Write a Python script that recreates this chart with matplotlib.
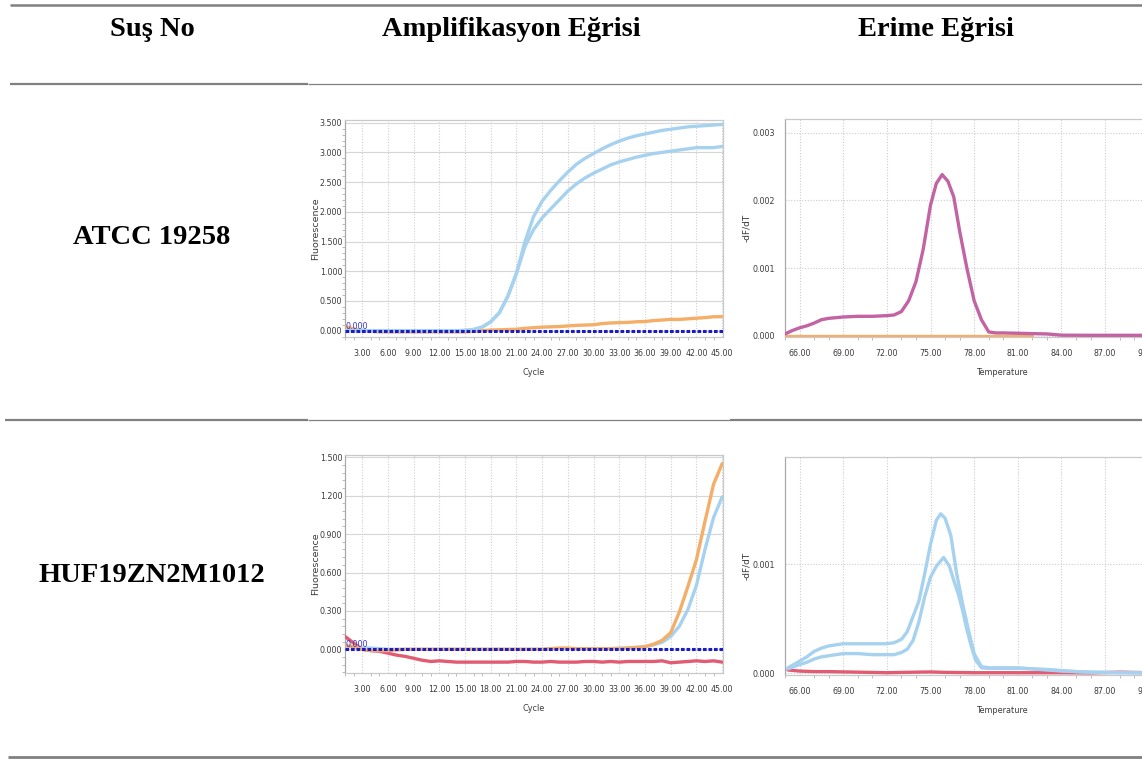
import matplotlib
matplotlib.use("Agg")
import matplotlib.pyplot as plt
from matplotlib.ticker import MultipleLocator, FormatStrFormatter
from matplotlib.lines import Line2D

# ---------------- data ----------------
headers = ["Suş No", "Amplifikasyon Eğrisi", "Erime Eğrisi"]
strains = ["ATCC 19258", "HUF19ZN2M1012"]

cycles = list(range(1, 46))

# Row 1 amplification (ATCC 19258)
amp1_blue_a = [0.00, 0.00, 0.00, 0.00, 0.00, 0.00, 0.00, 0.00, 0.00, 0.00,
               0.00, 0.00, 0.00, 0.00, 0.005, 0.02, 0.06, 0.15, 0.30, 0.58,
               0.97, 1.50, 1.92, 2.18, 2.36, 2.52, 2.67, 2.80, 2.90, 2.98,
               3.06, 3.13, 3.19, 3.24, 3.28, 3.31, 3.34, 3.37, 3.39, 3.41,
               3.43, 3.44, 3.45, 3.46, 3.47]
amp1_blue_b = [0.00, 0.00, 0.00, 0.00, 0.00, 0.00, 0.00, 0.00, 0.00, 0.00,
               0.00, 0.00, 0.00, 0.00, 0.005, 0.02, 0.06, 0.15, 0.30, 0.58,
               0.96, 1.42, 1.70, 1.90, 2.05, 2.20, 2.35, 2.47, 2.57, 2.65,
               2.72, 2.79, 2.84, 2.88, 2.92, 2.95, 2.98, 3.00, 3.02, 3.04,
               3.06, 3.08, 3.08, 3.08, 3.10]
amp1_orange = [0.07, 0.03, 0.00, -0.01, -0.02, -0.02, -0.02, -0.02, -0.02, -0.02,
               -0.02, -0.02, -0.02, -0.02, -0.02, -0.01, 0.00, 0.01, 0.015, 0.02,
               0.025, 0.04, 0.05, 0.06, 0.065, 0.07, 0.08, 0.09, 0.095, 0.10,
               0.12, 0.13, 0.135, 0.14, 0.15, 0.155, 0.17, 0.18, 0.19, 0.19,
               0.20, 0.21, 0.22, 0.235, 0.235]

# Row 2 amplification (HUF19ZN2M1012)
amp2_red = [0.10, 0.05, 0.00, -0.01, -0.015, -0.03, -0.045, -0.055, -0.07, -0.085,
            -0.095, -0.09, -0.095, -0.10, -0.10, -0.10, -0.10, -0.10, -0.10, -0.10,
            -0.095, -0.095, -0.10, -0.10, -0.095, -0.10, -0.10, -0.10, -0.095, -0.095,
            -0.10, -0.095, -0.10, -0.095, -0.095, -0.095, -0.095, -0.09, -0.105, -0.10,
            -0.095, -0.09, -0.095, -0.09, -0.10]
amp2_orange = [0.03, 0.02, 0.00, -0.01, -0.01, -0.01, -0.005, 0.00, 0.00, 0.00,
               0.00, 0.00, 0.00, 0.00, 0.00, 0.00, 0.00, 0.00, 0.00, 0.00,
               0.00, 0.00, 0.00, 0.00, 0.005, 0.01, 0.01, 0.005, 0.005, 0.005,
               0.005, 0.005, 0.005, 0.01, 0.015, 0.02, 0.04, 0.07, 0.13, 0.29,
               0.49, 0.70, 1.00, 1.29, 1.45]
amp2_blue = [0.03, 0.02, 0.01, 0.01, 0.005, 0.00, 0.00, 0.00, 0.00, 0.00,
             0.00, 0.00, 0.00, 0.00, 0.00, 0.00, 0.00, 0.00, 0.00, 0.00,
             0.00, 0.00, 0.00, 0.00, 0.005, 0.005, 0.005, 0.005, 0.005, 0.005,
             0.005, 0.005, 0.01, 0.01, 0.015, 0.02, 0.035, 0.055, 0.10, 0.18,
             0.31, 0.50, 0.78, 1.03, 1.19]

# Row 1 melt (values x 1e-3)
melt1_temp = [65.0, 65.5, 66.0, 66.5, 67.0, 67.5, 68.0, 68.5, 69.0, 70.0, 71.0, 72.0,
              72.5, 73.0, 73.5, 74.0, 74.5, 75.0, 75.4, 75.8, 76.2, 76.6, 77.0, 77.5,
              78.0, 78.5, 79.0, 79.5, 80.0, 81.0, 82.0, 83.0, 84.0, 86.0, 88.0, 90.0, 92.0]
melt1_purple = [0.03, 0.08, 0.12, 0.15, 0.19, 0.24, 0.26, 0.27, 0.28, 0.29, 0.29, 0.30,
                0.31, 0.36, 0.52, 0.80, 1.28, 1.93, 2.25, 2.38, 2.28, 2.05, 1.55, 1.00,
                0.52, 0.24, 0.06, 0.045, 0.045, 0.04, 0.035, 0.03, 0.012, 0.01, 0.01, 0.01, 0.01]
melt1_orange_temp = [65.0, 70.0, 75.0, 80.0, 82.0]
melt1_orange = [0.0, 0.0, 0.0, 0.0, 0.0]

# Row 2 melt (values x 1e-3)
melt2_temp_a = [65.2, 65.6, 66.0, 66.5, 67.0, 67.5, 68.0, 68.5, 69.0, 70.0, 71.0, 72.0,
                72.5, 73.0, 73.4, 73.8, 74.2, 74.6, 75.0, 75.4, 75.7, 76.0, 76.4, 76.8,
                77.2, 77.6, 78.0, 78.5, 79.0, 80.0, 81.0, 82.0, 83.0, 84.0, 85.0, 86.0,
                88.0, 92.0]
melt2_blue_a = [0.05, 0.08, 0.11, 0.15, 0.20, 0.23, 0.25, 0.26, 0.27, 0.27, 0.27, 0.27,
                0.28, 0.31, 0.38, 0.52, 0.66, 0.91, 1.18, 1.40, 1.46, 1.42, 1.26, 0.91,
                0.64, 0.40, 0.18, 0.06, 0.05, 0.05, 0.05, 0.04, 0.035, 0.025, 0.015, 0.01,
                0.005, 0.005]
melt2_temp_b = [65.2, 65.6, 66.0, 66.5, 67.0, 67.5, 68.0, 69.0, 70.0, 71.0, 72.0, 72.5,
                73.0, 73.4, 73.8, 74.2, 74.6, 75.0, 75.4, 75.9, 76.3, 76.6, 76.9, 77.2,
                77.5, 77.8, 78.1, 78.5, 79.0, 80.0, 81.0, 82.0, 83.0, 84.0, 85.0, 86.0,
                88.0, 92.0]
melt2_blue_b = [0.04, 0.06, 0.08, 0.10, 0.13, 0.15, 0.16, 0.18, 0.18, 0.17, 0.17, 0.17,
                0.19, 0.22, 0.30, 0.47, 0.70, 0.88, 0.98, 1.06, 0.98, 0.85, 0.73, 0.58,
                0.40, 0.25, 0.12, 0.05, 0.045, 0.045, 0.045, 0.04, 0.03, 0.02, 0.015, 0.01,
                0.005, 0.005]
melt2_temp_r = [65.2, 65.6, 66.0, 67.0, 68.0, 70.0, 72.0, 74.0, 75.0, 76.0, 78.0, 80.0,
                82.0, 84.0, 86.0, 88.0, 90.0, 92.0]
melt2_red = [0.03, 0.025, 0.02, 0.015, 0.015, 0.01, 0.005, 0.01, 0.012, 0.008, 0.005, 0.005,
             0.005, 0.005, 0.003, 0.01, 0.005, 0.003]

# ---------------- style ----------------
BLUE = "#a6d2ef"
ORANGE = "#f4ae68"
PURPLE = "#c263a3"
RED = "#e15c73"
THRESH = "#1c1cc4"
TICKC = "#3a3a3a"

W, H = 1142, 760
fig = plt.figure(figsize=(W / 100, H / 100), dpi=100)


def rect(l, t, r, b):
    return [l / W, 1 - b / H, (r - l) / W, (b - t) / H]


def style_axes(ax):
    ax.set_facecolor("white")
    for s in ["left", "top", "bottom", "right"]:
        ax.spines[s].set_color("#c9c9c9")
        ax.spines[s].set_linewidth(0.9)
    ax.spines["left"].set_color("#a9a9a9")
    ax.tick_params(axis="both", which="major", length=0, colors=TICKC)
    ax.tick_params(axis="x", which="major", pad=9)
    ax.tick_params(axis="y", which="major", pad=2)
    ax.tick_params(axis="both", which="minor", length=2.5, width=0.6, color="#b0b0b0")
    for lab in ax.get_xticklabels() + ax.get_yticklabels():
        lab.set_fontfamily("DejaVu Sans")
        lab.set_fontstretch("condensed")
        lab.set_fontsize(6.3)
        lab.set_color(TICKC)
    ax.set_axisbelow(True)


def amp_axes(ax, ylim, ystep, series):
    ax.set_xlim(1, 45.1)
    ax.set_ylim(*ylim)
    ax.xaxis.set_minor_locator(MultipleLocator(1))
    ax.yaxis.set_major_locator(MultipleLocator(ystep))
    ax.yaxis.set_minor_locator(MultipleLocator(ystep / 5))
    ax.xaxis.set_major_formatter(FormatStrFormatter("%.2f"))
    ax.yaxis.set_major_formatter(FormatStrFormatter("%.3f"))
    ax.set_xticks([c for c in range(3, 46, 3)])
    ax.grid(axis="y", which="major", color="#d6d6d6", lw=0.8, ls="-")
    ax.grid(axis="x", which="major", color="#cfcfcf", lw=0.8, ls=(0, (1, 1.5)))
    for y, c in series:
        ax.plot(cycles, y, color=c, lw=2.4, solid_capstyle="round", zorder=3)
    ax.axhline(0, color=THRESH, lw=2.2, ls=(0, (1.2, 0.6)), zorder=4)
    ax.text(1.1, 0, "0.000", color="#3a3ad0", va="bottom", ha="left",
            fontfamily="DejaVu Sans", fontstretch="condensed", fontsize=6.5, zorder=5)
    style_axes(ax)
    ax.set_xlabel("Cycle", fontsize=6.5, fontfamily="DejaVu Sans",
                  fontstretch="condensed", color=TICKC, labelpad=7)
    ax.set_ylabel("Fluorescence", fontsize=6.8, color=TICKC, labelpad=0)


def melt_axes(ax, ylim, series):
    ax.set_xlim(65, 95)
    ax.set_ylim(*ylim)
    ax.xaxis.set_minor_locator(MultipleLocator(1))
    ax.set_xticks([66, 69, 72, 75, 78, 81, 84, 87, 90])
    ax.yaxis.set_major_locator(MultipleLocator(0.001))
    ax.xaxis.set_major_formatter(FormatStrFormatter("%.2f"))
    ax.yaxis.set_major_formatter(FormatStrFormatter("%.3f"))
    ax.grid(axis="both", which="major", color="#cdcdcd", lw=0.8, ls=(0, (1, 1.5)))
    for x, y, c in series:
        ax.plot(x, [v * 1e-3 for v in y], color=c, lw=2.4, solid_capstyle="round", zorder=3)
    style_axes(ax)
    ax.tick_params(axis="y", which="major", pad=7)
    ax.set_xlabel("Temperature", fontsize=6.5, fontfamily="DejaVu Sans",
                  fontstretch="condensed", color=TICKC, labelpad=7)
    ax.set_ylabel("-dF/dT", fontsize=6.5, color=TICKC, labelpad=1)


ax1 = fig.add_axes(rect(345, 120, 723, 337))
amp_axes(ax1, (-0.106, 3.545), 0.5,
         [(amp1_orange, ORANGE), (amp1_blue_b, BLUE), (amp1_blue_a, BLUE)])

ax2 = fig.add_axes(rect(785, 119, 785 + 30 * 14.55, 337))
melt_axes(ax2, (-0.000015, 0.0032),
          [(melt1_orange_temp, melt1_orange, ORANGE), (melt1_temp, melt1_purple, PURPLE)])

ax3 = fig.add_axes(rect(345, 455, 723, 673))
amp_axes(ax3, (-0.185, 1.518), 0.3,
         [(amp2_red, RED), (amp2_blue, BLUE), (amp2_orange, ORANGE)])

ax4 = fig.add_axes(rect(785, 457, 785 + 30 * 14.55, 675))
melt_axes(ax4, (-0.000016, 0.00198),
          [(melt2_temp_r, melt2_red, RED), (melt2_temp_b, melt2_blue_b, BLUE),
           (melt2_temp_a, melt2_blue_a, BLUE)])

# ---------------- table text & rules ----------------
serif = dict(family="Liberation Serif", weight="bold", size=20.5, color="black")
header_x = [152, 511, 936]
for hx, txt in zip(header_x, headers):
    fig.text(hx / W, 1 - 30 / H, txt, ha="center", va="center", **serif)
for sy, txt in zip([237, 575], strains):
    fig.text(152 / W, 1 - sy / H, txt, ha="center", va="center", **serif)


def hline(y, x0, x1, lw):
    fig.add_artist(Line2D([x0 / W, x1 / W], [1 - y / H, 1 - y / H],
                          transform=fig.transFigure, color="#808080", lw=lw,
                          solid_capstyle="butt"))


hline(4.5, 10, W, 1.8)
hline(83.5, 10, 308, 1.6)
hline(83.5, 308, W, 0.9)
hline(420, 5, 308, 1.6)
hline(420, 308, 730, 0.9)
hline(420, 730, W, 1.6)
hline(757, 8, W, 2.0)

fig.savefig("out.png", dpi=100)
